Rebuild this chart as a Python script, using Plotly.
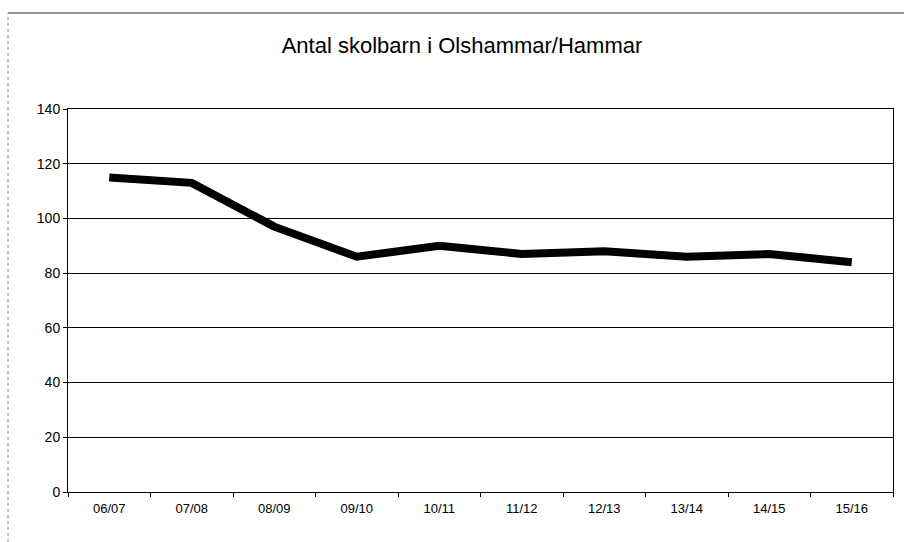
import plotly.graph_objects as go

title = "Antal skolbarn i Olshammar/Hammar"
categories = ["06/07", "07/08", "08/09", "09/10", "10/11", "11/12", "12/13", "13/14", "14/15", "15/16"]
pupils = [115, 113, 97, 86, 90, 87, 88, 86, 87, 84]
y_ticks = [0, 20, 40, 60, 80, 100, 120, 140]

W, H = 904, 542
L, R, T, B = 68, 11, 109, 50
PW, PH = W - L - R, H - T - B

fig = go.Figure()
fig.add_trace(go.Scatter(
    x=categories, y=pupils, mode="lines",
    line=dict(color="black", width=8),
    showlegend=False,
))

fig.update_layout(
    width=W, height=H,
    paper_bgcolor="white", plot_bgcolor="white",
    margin=dict(l=L, r=R, t=T, b=B),
    font=dict(family="Liberation Sans, Arial, sans-serif", color="black", size=13),
    title=dict(text=title, x=462 / W, xanchor="center",
               y=1 - 45 / H, yanchor="middle",
               font=dict(size=22, color="black")),
)
fig.update_xaxes(
    type="category", range=[-0.5, len(categories) - 0.5],
    showline=True, linecolor="black", linewidth=1, mirror=True,
    showgrid=False, ticks="outside", ticklen=4, tickcolor="black",
    tickson="boundaries", tickfont=dict(size=13), ticklabelstandoff=4,
)
fig.update_yaxes(
    range=[0, 140], tickvals=y_ticks, showline=True, linecolor="black", linewidth=1,
    mirror=True, showgrid=True, gridcolor="black", gridwidth=1,
    ticks="outside", ticklen=4, tickcolor="black", zeroline=False,
    tickfont=dict(size=14),
)

# outer chart frame of the scanned page
top_y = (H - B - 13) / PH
left_x = (8 - L) / PW
fig.add_shape(type="line", xref="paper", yref="paper",
              x0=left_x, x1=(W - L) / PW, y0=top_y, y1=top_y,
              line=dict(color="#333", width=1))
fig.add_shape(type="line", xref="paper", yref="paper",
              x0=left_x, x1=left_x, y0=-B / PH, y1=top_y,
              line=dict(color="#888", width=1, dash="dot"))

fig.write_html("out.html", config={"displayModeBar": False},
               post_script="document.body.style.margin='0';document.body.style.overflow='hidden';")
